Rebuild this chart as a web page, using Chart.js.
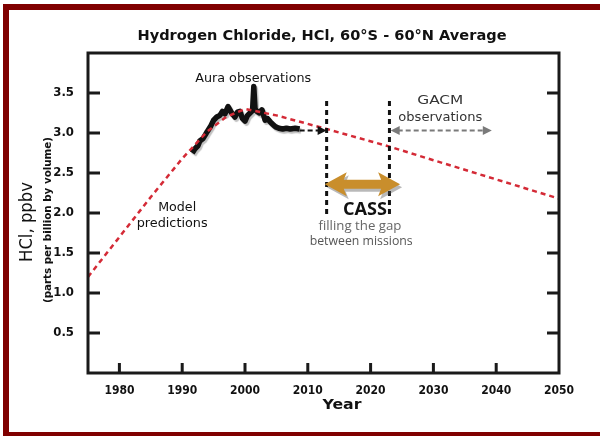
<!DOCTYPE html>
<html>
<head>
<meta charset="utf-8">
<script src="https://cdn.jsdelivr.net/npm/chart.js@4/dist/chart.umd.min.js"></script>
<style>
  html, body { margin: 0; padding: 0; background: #fff; overflow: hidden; }
  canvas { display: block; }
</style>
</head>
<body>
<canvas id="hcl-chart" width="600" height="436"></canvas>
<script>
// model predictions (red dashed)
const modelYears = [1975, 1980, 1985, 1990, 1994, 1997, 2000, 2005, 2013, 2023, 2030, 2040, 2050];
const modelValues = [1.2, 1.7, 2.2, 2.68, 3.02, 3.2, 3.3, 3.22, 3.05, 2.83, 2.66, 2.42, 2.18];

// Aura observations (black)
const auraYears = [1991.6, 1992.0, 1992.5, 1992.8, 1993.3, 1993.7, 1994.0, 1994.5, 1995.0, 1995.5,
  1996.0, 1996.4, 1996.8, 1997.3, 1997.8, 1998.4, 1998.8, 1999.2, 1999.6, 2000.0,
  2000.4, 2000.8, 2001.2, 2001.4, 2001.6, 2001.9, 2002.3, 2002.7, 2003.2, 2003.6,
  2004.0, 2004.4, 2004.8, 2005.4, 2006.0, 2006.6, 2007.2, 2008.0, 2008.7];
const auraValues = [2.75, 2.80, 2.84, 2.90, 2.93, 2.98, 3.02, 3.08, 3.16, 3.20,
  3.22, 3.27, 3.24, 3.33, 3.26, 3.20, 3.26, 3.27, 3.18, 3.15,
  3.22, 3.25, 3.28, 3.58, 3.30, 3.27, 3.25, 3.29, 3.16, 3.18,
  3.14, 3.11, 3.08, 3.06, 3.05, 3.06, 3.05, 3.06, 3.05];

const xTicks = [1980, 1990, 2000, 2010, 2020, 2030, 2040, 2050];
const yTicks = [0, 0.5, 1.0, 1.5, 2.0, 2.5, 3.0, 3.5, 4.0];

// mission gap and arrows
const gapStart = 2013;
const gapEnd = 2023;
const gapLineTop = 3.4;
const gapLineBottom = 1.96;
const auraArrow = [2008.7, 2013, 3.03];
const gacmArrow = [2023.2, 2039.3, 3.03];
const cassArrow = [2012.7, 2024.7, 2.36];

const RED = "#d42a36";
const FRAME = "#800000";

function fitText(ctx, text, x, y, font, color, width, rotate) {
  ctx.save();
  ctx.font = font;
  ctx.fillStyle = color;
  ctx.textAlign = "center";
  ctx.textBaseline = "middle";
  const w = ctx.measureText(text).width;
  ctx.translate(x, y);
  if (rotate) ctx.rotate(-Math.PI / 2);
  if (width) ctx.scale(width / w, 1);
  ctx.fillText(text, 0, 0);
  ctx.restore();
}

function arrowHead(ctx, x, y, dir, len, half) {
  ctx.beginPath();
  ctx.moveTo(x, y);
  ctx.lineTo(x - dir * len, y - half);
  ctx.lineTo(x - dir * len, y + half);
  ctx.closePath();
  ctx.fill();
}

const decorPlugin = {
  id: "decor",
  beforeDraw(chart) {
    const c = chart.ctx;
    c.save();
    c.fillStyle = "#fff";
    c.fillRect(0, 0, chart.width, chart.height);
    c.fillStyle = FRAME;
    c.fillRect(3, 4, 597, 6);
    c.fillRect(3, 4, 6, 432);
    c.fillRect(3, 432, 597, 4);
    c.restore();
  },
  beforeDatasetDraw(chart, args) {
    if (args.index === 1) {
      const c = chart.ctx;
      c.save();
      c.shadowColor = "rgba(0,0,0,0.25)";
      c.shadowOffsetX = 1.5;
      c.shadowOffsetY = 2;
      c.shadowBlur = 1;
    }
  },
  afterDatasetDraw(chart, args) {
    if (args.index === 1) chart.ctx.restore();
  },
  afterDraw(chart) {
    const c = chart.ctx;
    const x = chart.scales.x, y = chart.scales.y;
    const a = chart.chartArea;
    c.save();

    // box + inward ticks
    c.strokeStyle = "#1a1a1a";
    c.lineWidth = 3;
    c.strokeRect(a.left, a.top, a.right - a.left, a.bottom - a.top);
    c.beginPath();
    xTicks.slice(0, -1).forEach(t => {
      const px = x.getPixelForValue(t);
      c.moveTo(px, a.bottom);
      c.lineTo(px, a.bottom - 10);
    });
    yTicks.slice(1, -1).forEach(t => {
      const py = y.getPixelForValue(t);
      c.moveTo(a.left, py);
      c.lineTo(a.left + 12, py);
      c.moveTo(a.right, py);
      c.lineTo(a.right - 12, py);
    });
    c.stroke();

    // vertical gap lines
    c.setLineDash([5, 4]);
    c.lineWidth = 3;
    c.strokeStyle = "#111";
    [gapStart, gapEnd].forEach(g => {
      const px = x.getPixelForValue(g);
      c.beginPath();
      c.moveTo(px, y.getPixelForValue(gapLineTop));
      c.lineTo(px, y.getPixelForValue(gapLineBottom));
      c.stroke();
    });

    // Aura dashed arrow
    let x1 = x.getPixelForValue(auraArrow[0]);
    let x2 = x.getPixelForValue(auraArrow[1]);
    let py = y.getPixelForValue(auraArrow[2]);
    c.lineWidth = 2;
    c.setLineDash([5, 3]);
    c.beginPath();
    c.moveTo(x1, py);
    c.lineTo(x2 - 7, py);
    c.stroke();
    c.setLineDash([]);
    c.fillStyle = "#111";
    arrowHead(c, x2, py, 1, 9, 4.5);

    // GACM dashed double arrow
    x1 = x.getPixelForValue(gacmArrow[0]);
    x2 = x.getPixelForValue(gacmArrow[1]);
    py = y.getPixelForValue(gacmArrow[2]);
    c.strokeStyle = "#7a7a7a";
    c.fillStyle = "#7a7a7a";
    c.lineWidth = 2;
    c.setLineDash([5, 3]);
    c.beginPath();
    c.moveTo(x1 + 7, py);
    c.lineTo(x2 - 7, py);
    c.stroke();
    c.setLineDash([]);
    arrowHead(c, x1, py, -1, 9, 4.5);
    arrowHead(c, x2, py, 1, 9, 4.5);

    // CASS double arrow
    x1 = x.getPixelForValue(cassArrow[0]);
    x2 = x.getPixelForValue(cassArrow[1]);
    py = y.getPixelForValue(cassArrow[2]);
    const shape = (ox, oy) => {
      c.beginPath();
      c.moveTo(x1 + ox, py + oy);
      c.lineTo(x1 + 22 + ox, py - 12 + oy);
      c.lineTo(x1 + 19 + ox, py - 4.5 + oy);
      c.lineTo(x2 - 19 + ox, py - 4.5 + oy);
      c.lineTo(x2 - 22 + ox, py - 12 + oy);
      c.lineTo(x2 + ox, py + oy);
      c.lineTo(x2 - 22 + ox, py + 12 + oy);
      c.lineTo(x2 - 19 + ox, py + 4.5 + oy);
      c.lineTo(x1 + 19 + ox, py + 4.5 + oy);
      c.lineTo(x1 + 22 + ox, py + 12 + oy);
      c.closePath();
      c.fill();
    };
    c.fillStyle = "rgba(80,80,80,0.4)";
    shape(2, 3);
    c.fillStyle = "#c98e2c";
    shape(0, 0);

    // labels
    const px = v => x.getPixelForValue(v), pyv = v => y.getPixelForValue(v);
    fitText(c, "Hydrogen Chloride, HCl, 60°S - 60°N Average", 322, 36, "bold 14px 'DejaVu Sans'", "#111", 369);
    fitText(c, "Aura observations", px(2001.3), pyv(3.68), "13px 'DejaVu Sans Condensed'", "#111", 116);
    fitText(c, "Model", px(1989.2), pyv(2.07), "12px 'DejaVu Sans Condensed'", "#111", 38);
    fitText(c, "predictions", px(1988.4), pyv(1.86), "12px 'DejaVu Sans Condensed'", "#111", 71);
    fitText(c, "CASS", px(2019.1), pyv(2.04), "bold 17px 'Open Sans'", "#111", 44);
    fitText(c, "filling the gap", px(2018.3), pyv(1.83), "12px 'Open Sans'", "#666", 83);
    fitText(c, "between missions", px(2018.5), pyv(1.64), "12px 'Open Sans'", "#555", 103);
    fitText(c, "GACM", px(2031.1), pyv(3.40), "13px 'DejaVu Sans Condensed'", "#333", 46);
    fitText(c, "observations", px(2031.1), pyv(3.19), "12px 'DejaVu Sans Condensed'", "#333", 84);
    fitText(c, "Year", 342, 405, "bold 14px 'DejaVu Sans'", "#111", 39);
    fitText(c, "HCl, ppbv", 28, 222, "17px 'DejaVu Sans'", "#111", 80, true);
    fitText(c, "(parts per billion by volume)", 48, 220, "bold 10px 'DejaVu Sans Condensed'", "#111", 166, true);
    c.restore();
  }
};

new Chart(document.getElementById("hcl-chart"), {
  type: "line",
  plugins: [decorPlugin],
  data: {
    datasets: [
      {
        label: "Model predictions",
        data: modelYears.map((yr, i) => ({ x: yr, y: modelValues[i] })),
        borderColor: RED,
        borderWidth: 2.5,
        borderDash: [5, 4],
        pointRadius: 0,
        tension: 0
      },
      {
        label: "Aura observations",
        data: auraYears.map((yr, i) => ({ x: yr, y: auraValues[i] })),
        borderColor: "#111",
        borderWidth: 5.5,
        borderJoinStyle: "round",
        pointRadius: 0,
        tension: 0
      }
    ]
  },
  options: {
    responsive: false,
    animation: false,
    layout: { padding: { top: 53, right: 41, left: 0, bottom: 0 } },
    plugins: {
      legend: { display: false },
      title: { display: false },
      tooltip: { enabled: false }
    },
    scales: {
      x: {
        type: "linear",
        min: 1975,
        max: 2050,
        grid: { display: false },
        border: { display: false },
        afterBuildTicks: s => { s.ticks = xTicks.map(v => ({ value: v })); },
        afterFit: s => { s.height = 63; },
        ticks: {
          padding: 3,
          color: "#111",
          maxRotation: 0,
          font: { family: "'DejaVu Sans Condensed'", size: 12, weight: "bold" },
          callback: v => String(v)
        }
      },
      y: {
        min: 0,
        max: 4,
        grid: { display: false },
        border: { display: false },
        afterBuildTicks: s => { s.ticks = yTicks.map(v => ({ value: v })); },
        afterFit: s => { s.width = 88; },
        ticks: {
          padding: 6,
          color: "#111",
          font: { family: "'DejaVu Sans Condensed'", size: 13, weight: "bold" },
          callback: v => (v === 0 || v === 4) ? "" : v.toFixed(1)
        }
      }
    }
  }
});
</script>
</body>
</html>
